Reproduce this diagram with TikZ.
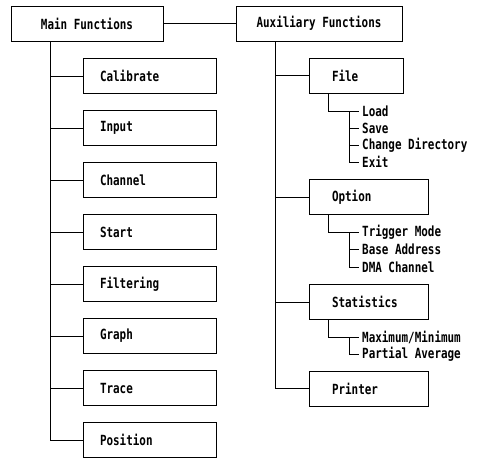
\documentclass[tikz,border=0pt]{standalone}
\usepackage{fontspec}
\newfontfamily\figfont[FakeStretch=0.78]{DejaVu Sans Mono Bold}
\begin{document}
\begin{tikzpicture}[x=1pt,y=-1pt,
  every node/.style={font=\figfont\fontsize{14}{15}\selectfont},
  topbox/.style={draw,line width=0.9pt,minimum height=35pt,inner sep=0pt,align=center},
  leftbox/.style={draw,line width=0.9pt,minimum height=35pt,inner xsep=17pt,inner ysep=0pt,text width=99pt,align=left},
  filebox/.style={draw,line width=0.9pt,minimum height=35pt,inner xsep=23pt,inner ysep=0pt,text width=48pt,align=left},
  rightbox/.style={draw,line width=0.9pt,minimum height=35pt,inner xsep=23pt,inner ysep=0pt,text width=73pt,align=left},
  item/.style={anchor=west,inner xsep=3pt,inner ysep=0pt},
  conn/.style={line width=0.9pt}]
\useasboundingbox (0,0) rectangle (480,458);
% top boxes
\node[topbox,minimum width=152pt] (main) at (87,23.5) {Main Functions};
\node[topbox,minimum width=166pt] (aux) at (319,23.5) {Auxiliary Functions};
\draw[conn] (main.east) -- (aux.west);
% left column
\node[leftbox] (cal) at (149.5,76) {Calibrate};
\node[leftbox] (inp) at (149.5,128) {Input};
\node[leftbox] (cha) at (149.5,180) {Channel};
\node[leftbox] (sta) at (149.5,232) {Start};
\node[leftbox] (fil) at (149.5,284) {Filtering};
\node[leftbox] (gra) at (149.5,336) {Graph};
\node[leftbox] (tra) at (149.5,388) {Trace};
\node[leftbox] (pos) at (149.5,440) {Position};
\coordinate (mt) at (50,41);
\draw[conn] (mt) |- (pos.west);
\foreach \b in {cal,inp,cha,sta,fil,gra,tra}
  \draw[conn] (mt |- \b.west) -- (\b.west);
% right column
\node[filebox] (file) at (356,75.5) {File};
\node[rightbox] (opt) at (368.5,197) {Option};
\node[rightbox] (stat) at (368.5,302) {Statistics};
\node[rightbox] (prn) at (368.5,388.5) {Printer};
\coordinate (at) at (275,41);
\draw[conn] (at) |- (prn.west);
\foreach \b in {file,opt,stat}
  \draw[conn] (at |- \b.west) -- (\b.west);
% File items
\node[item] (load) at (359,111) {Load};
\node[item] (save) at (359,128) {Save};
\node[item] (cdir) at (359,145) {Change Directory};
\node[item] (exit) at (359,162) {Exit};
\draw[conn] (file.south west) ++(20,0) |- (load.west);
\coordinate (fv) at (349,111);
\draw[conn] (fv) |- (exit.west);
\foreach \b in {save,cdir}
  \draw[conn] (fv |- \b.west) -- (\b.west);
% Option items
\node[item] (trig) at (359,232) {Trigger Mode};
\node[item] (base) at (359,249.5) {Base Address};
\node[item] (dma) at (359,267) {DMA Channel};
\draw[conn] (opt.south west) ++(20,0) |- (trig.west);
\coordinate (ov) at (349,232);
\draw[conn] (ov) |- (dma.west);
\draw[conn] (ov |- base.west) -- (base.west);
% Statistics items
\node[item] (maxm) at (359,337) {Maximum/Minimum};
\node[item] (pavg) at (359,354) {Partial Average};
\draw[conn] (stat.south west) ++(20,0) |- (maxm.west);
\coordinate (sv) at (349,337);
\draw[conn] (sv) |- (pavg.west);
\end{tikzpicture}
\end{document}
